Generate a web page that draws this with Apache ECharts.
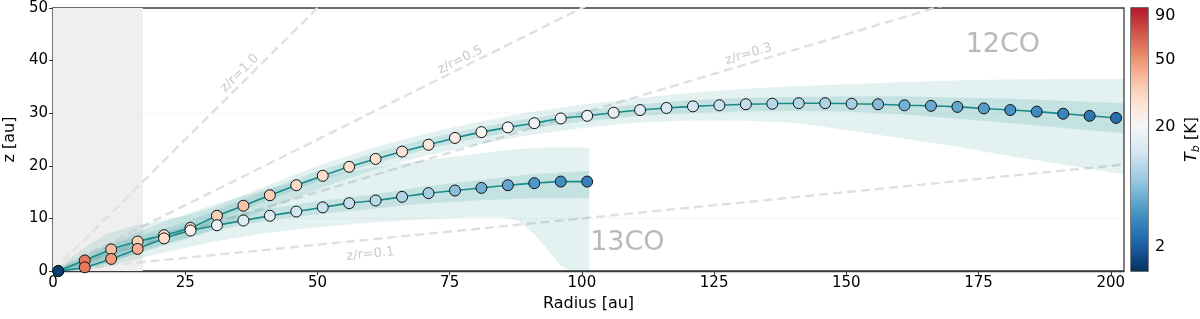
<!DOCTYPE html>
<html><head><meta charset="utf-8">
<script src="https://cdn.jsdelivr.net/npm/echarts@6/dist/echarts.min.js"></script>
<style>html,body{margin:0;padding:0;background:#fff}#c{width:1200px;height:319px}</style>
</head><body><div id="c"></div>
<script>
// ---------------- data ----------------
const r12 = [1,6,11,16,21,26,31,36,41,46,51,56,61,66,71,76,81,86,91,96,101,106,111,116,121,126,131,136,141,146,151,156,161,166,171,176,181,186,191,196,201];
const z12 = [0,2.0,4.1,5.6,6.8,8.2,10.5,12.4,14.4,16.3,18.1,19.8,21.3,22.7,24.0,25.3,26.4,27.3,28.1,29.0,29.5,30.1,30.6,31.0,31.3,31.5,31.7,31.8,31.9,31.9,31.8,31.7,31.5,31.4,31.2,30.9,30.6,30.3,29.9,29.5,29.1];
const tb12 = [0.5,58,38,34,27,30,34,37,34,31,30,29,28,27,25.5,24,21.5,20.7,19.0,18.3,17.5,16.8,16.1,14.7,14.1,13.0,12.4,11.4,10.9,10.5,10.0,8.0,7.2,6.8,6.5,5.8,5.2,4.6,4.3,3.4,2.9];

const r13 = [1,6,11,16,21,26,31,36,41,46,51,56,61,66,71,76,81,86,91,96,101];
const z13 = [0,0.7,2.3,4.2,6.2,7.7,8.7,9.6,10.5,11.3,12.1,12.9,13.4,14.1,14.8,15.3,15.8,16.3,16.7,17.0,17.0];
const tb13 = [0.5,58,48,43,30,22.4,18.3,16.1,15.4,14.1,13.0,12.4,11.4,10.9,10.0,8.3,7.2,6.5,5.5,4.9,4.0];

// uncertainty bands
const b12r      = [0,5,10,15,20,25,30,40,50,60,70,80,90,100,110,120,130,140,150,160,170,180,190,202.5];
const b12outLo  = [0,0.2,1.5,3.0,4.5,6.0,7.8,11.5,15.5,19.0,21.8,24.0,25.8,27.2,28.2,28.6,28.6,28.2,26.8,25.3,23.8,22.0,20.4,18.4];
const b12outHi  = [0,3.8,7.0,8.5,9.5,10.5,12.0,16.0,20.0,23.3,26.0,28.3,30.2,31.6,32.8,33.8,34.6,35.1,35.5,35.9,36.2,36.4,36.5,36.5];
const b12inLo   = [0,0.8,2.8,4.3,5.6,7.2,9.2,13.2,17.0,20.2,23.0,25.2,27.0,28.4,29.4,30.0,30.3,30.4,30.3,29.8,29.0,28.2,27.3,26.2];
const b12inHi   = [0,2.2,4.6,6.3,7.8,9.3,11.2,15.2,19.0,22.2,25.0,27.2,29.0,30.4,31.6,32.4,32.9,33.1,33.2,33.2,33.0,32.8,32.4,31.9];

const b13r      = [0,5,10,20,30,40,50,60,70,80,85,88,91,94,96,98,101.4];
const b13outLo  = [0,0,0.8,3.3,5.5,7.2,8.3,9.2,9.8,10.2,10.2,9.5,7.0,3.5,1.0,0,0];
const b13outHi  = [0,2.5,5.0,9.0,12.5,15.5,17.8,19.6,21.0,22.3,22.9,23.2,23.4,23.5,23.5,23.5,23.5];
const b13inR    = [0,5,10,20,30,40,50,60,70,80,90,101.4];
const b13inLo   = [0,0.2,1.4,4.8,7.6,9.5,10.8,11.8,12.8,13.4,13.8,13.9];
const b13inHi   = [0,1.6,3.4,7.2,9.8,11.8,13.2,14.5,16.0,17.2,18.4,19.0];

const zrRatios = [1.0, 0.5, 0.3, 0.1];
const zrLabels = ['z/r=1.0','z/r=0.5','z/r=0.3','z/r=0.1'];
const zrLabelR = [35.3, 77.0, 131.5, 60.0];
const zrLabelDz = [2.3, 1.6, 1.8, -2.8];
const hLines = [10, 30];
const maskR = 17;
const xTicks = [0,25,50,75,100,125,150,175,200];
const yTicks = [0,10,20,30,40,50];
const cbTicks = [2,20,50,90];
const molLabels = [{name:'12CO', r:179.6, z:43.0},{name:'13CO', r:108.6, z:5.3}];

// ---------------- colour scale (asinh norm, RdBu_r truncated) ----------------
const X_MAX = 202.5, Y_MAX = 50;
const A = 6, VMAX = 100, CMAP_TOP = 0.9;
const norm = v => Math.asinh(v / A) / Math.asinh(VMAX / A);
const RDBU_R = ['#053061','#2166ac','#4393c3','#92c5de','#d1e5f0','#f7f7f7','#fddbc7','#f4a582','#d6604d','#b2182b','#67001f'];
function hex2rgb(h){return [parseInt(h.slice(1,3),16),parseInt(h.slice(3,5),16),parseInt(h.slice(5,7),16)];}
function rdbu(t){
  t = Math.max(0, Math.min(1, t));
  const f = t * 10, i = Math.min(9, Math.floor(f)), u = f - i;
  const a = hex2rgb(RDBU_R[i]), b = hex2rgb(RDBU_R[i+1]);
  const c = a.map((x,k)=>Math.round(x + (b[k]-x)*u));
  return 'rgb(' + c.join(',') + ')';
}
const cmap = p => rdbu(p * CMAP_TOP);

const FONT = 'DejaVu Sans';
const TEAL = '#1a8a8a';

function band(rs, lo, hi, color, z){
  return {
    type:'custom', silent:true, z:z, clip:true,
    data: rs.map((r,i)=>[r, lo[i], hi[i]]),
    encode:{x:0, y:[1,2]},
    renderItem:(params, api)=>{
      if (params.dataIndex !== 0) return null;
      const pts = [];
      for (let i=0;i<rs.length;i++) pts.push(api.coord([rs[i], hi[i]]));
      for (let i=rs.length-1;i>=0;i--) pts.push(api.coord([rs[i], lo[i]]));
      return {type:'polygon', shape:{points:pts, smooth:0}, style:{fill:color}};
    }
  };
}

const series = [];
series.push({
  type:'line', data:[], silent:true, z:0,
  markArea:{silent:true, itemStyle:{color:'#efefef'}, data:[[{xAxis:0},{xAxis:maskR}]]}
});
hLines.forEach(h=>series.push({
  type:'line', silent:true, z:1, symbol:'none',
  data:[[0,h],[X_MAX,h]],
  lineStyle:{color:'#d8d8d8', width:1, type:[1,3]}
}));
zrRatios.forEach(q=>series.push({
  type:'line', silent:true, z:2, symbol:'none', clip:true,
  data:[[0,0],[X_MAX, q*X_MAX]],
  lineStyle:{color:'#e0e0e0', width:2.4, type:[9,5]}
}));
series.push(band(b12r, b12outLo, b12outHi, 'rgba(0,128,128,0.11)', 3));
series.push(band(b12r, b12inLo, b12inHi, 'rgba(0,128,128,0.13)', 4));
series.push(band(b13r, b13outLo, b13outHi, 'rgba(0,128,128,0.11)', 3));
series.push(band(b13inR, b13inLo, b13inHi, 'rgba(0,128,128,0.13)', 4));
const pxPerX = 1071 / X_MAX, pxPerY = 263 / Y_MAX;
series.push({
  type:'scatter', silent:true, z:5, symbolSize:1, itemStyle:{color:'rgba(0,0,0,0)'},
  data: zrRatios.map((q,i)=>({
    value:[zrLabelR[i], q*zrLabelR[i] + zrLabelDz[i]],
    label:{show:true, position:'inside', formatter:zrLabels[i], rotate: Math.atan(q*pxPerY/pxPerX)*180/Math.PI,
      color:'#bbbbbb', fontSize:13, fontFamily:FONT}
  }))
});
series.push({
  type:'scatter', silent:true, z:5, symbolSize:1, itemStyle:{color:'rgba(0,0,0,0)'},
  data: molLabels.map(m=>({value:[m.r,m.z], label:{show:true, position:'inside', formatter:m.name, color:'#a8a8a8', fontSize:27, fontFamily:FONT}}))
});
[[r12,z12],[r13,z13]].forEach(([rs,zs])=>series.push({
  type:'line', silent:true, z:6, symbol:'none', smooth:0.25,
  data: rs.map((r,i)=>[r, zs[i]]),
  lineStyle:{color:TEAL, width:1.6}
}));
[[r12,z12,tb12],[r13,z13,tb13]].forEach(([rs,zs,tb])=>series.push({
  type:'scatter', silent:true, z:7, symbolSize:11,
  data: rs.map((r,i)=>[r, zs[i], tb[i]]),
  itemStyle:{color:p=>cmap(norm(p.value[2])), borderColor:'#111', borderWidth:1, opacity:1}
}));
series.push({
  type:'custom', xAxisIndex:1, yAxisIndex:1, silent:true,
  data:[[0,0]],
  renderItem:(params, api)=>{
    const p0 = api.coord([0,0]), p1 = api.coord([1,1]);
    const stops = [];
    for (let i=0;i<=20;i++){ const p = i/20; stops.push({offset:1-p, color:cmap(p)}); }
    stops.reverse();
    return {type:'rect', shape:{x:p0[0], y:p1[1], width:p1[0]-p0[0], height:p0[1]-p1[1]},
      style:{fill:{type:'linear', x:0, y:0, x2:0, y2:1, colorStops:stops, global:false}}};
  }
});

const tickText = {color:'#000', fontSize:15, fontFamily:FONT};
const nameText = {color:'#000', fontSize:16, fontFamily:FONT};
const option = {
  animation:false,
  backgroundColor:'#fff',
  grid:[
    {left:53, right:76, top:8, bottom:48, containLabel:false, outerBoundsMode:'none', show:true, borderColor:'#3a3a3a', borderWidth:1.3, backgroundColor:'transparent'},
    {left:1131, width:17, top:8, bottom:48, containLabel:false, outerBoundsMode:'none', show:true, borderColor:'#3a3a3a', borderWidth:1.3, backgroundColor:'transparent'}
  ],
  xAxis:[
    {type:'value', gridIndex:0, min:0, max:X_MAX, interval:25,
     name:'Radius [au]', nameLocation:'middle', nameGap:25, nameTextStyle:nameText,
     axisLine:{show:true, lineStyle:{color:'#3a3a3a', width:1.3}},
     axisTick:{show:true, length:4, lineStyle:{color:'#3a3a3a'}, customValues:xTicks},
     axisLabel:Object.assign({margin:5, customValues:xTicks}, tickText),
     splitLine:{show:false}},
    {type:'value', gridIndex:1, min:0, max:1, show:false}
  ],
  yAxis:[
    {type:'value', gridIndex:0, min:0, max:Y_MAX, interval:10,
     name:'z [au]', nameLocation:'middle', nameGap:34, nameTextStyle:nameText,
     axisLine:{show:true, lineStyle:{color:'#3a3a3a', width:1.3}},
     axisTick:{show:true, length:4, lineStyle:{color:'#3a3a3a'}, customValues:yTicks},
     axisLabel:Object.assign({margin:5, customValues:yTicks}, tickText),
     splitLine:{show:false}},
    {type:'value', gridIndex:1, min:0, max:1, position:'right',
     name:'{i|T}{s|b} [K]', nameLocation:'middle', nameGap:34, nameRotate:90,
     nameTextStyle:{color:'#000', fontSize:16, fontFamily:FONT,
       rich:{i:{fontStyle:'italic', fontSize:16, fontFamily:FONT}, s:{fontStyle:'italic', fontSize:11, fontFamily:FONT, padding:[9,0,0,0]}}},
     axisLine:{show:false},
     axisTick:{show:true, length:4, lineStyle:{color:'#3a3a3a'}, customValues:cbTicks.map(norm)},
     axisLabel:Object.assign({margin:7, customValues:cbTicks.map(norm),
       formatter:v=>{let best=cbTicks[0];cbTicks.forEach(t=>{if(Math.abs(norm(t)-v)<Math.abs(norm(best)-v))best=t;});return String(best);}}, tickText, {fontSize:16}),
     splitLine:{show:false}}
  ],
  series: series
};
const chart = echarts.init(document.getElementById('c'), null, {renderer:'canvas'});
chart.setOption(option);
</script></body></html>
